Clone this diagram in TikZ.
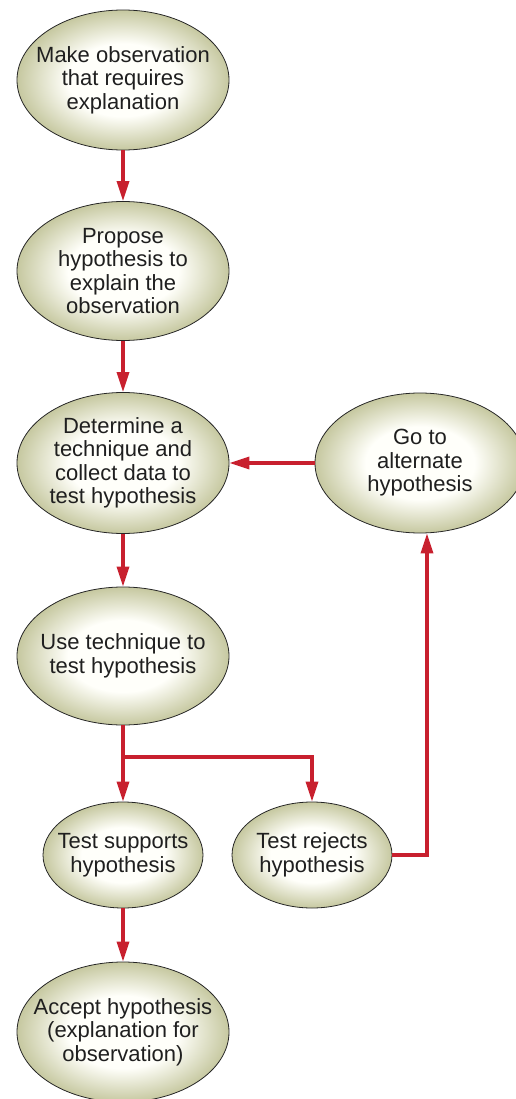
\documentclass[tikz,border=0pt]{standalone}
\usepackage{fontspec}
\setmainfont{Liberation Sans}
\usepackage{tikz}
\usetikzlibrary{shapes.geometric, arrows.meta, positioning}

\definecolor{flowred}{RGB}{200,32,46}
\definecolor{ellin}{RGB}{255,255,250}
\definecolor{ellout}{RGB}{198,200,160}
\pgfdeclareradialshading{blob}{\pgfpoint{0bp}{0bp}}{%
  color(0bp)=(ellin); color(13bp)=(ellin); color(25bp)=(ellout); color(50bp)=(ellout)}

\tikzset{
  step box/.style={ellipse, draw=black!85, line width=0.8pt, shading=blob,
    minimum width=212pt, minimum height=140pt, inner xsep=-20pt, inner ysep=-10pt,
    align=center, font=\fontsize{22}{23.5}\selectfont, text=black!88},
  small box/.style={step box, minimum width=160pt, minimum height=106pt},
  flow/.style={draw=flowred, line width=3.3pt, -{Triangle[width=12pt,length=20pt]}},
}

\begin{document}
\begin{tikzpicture}[x=1pt, y=-1pt]
    \useasboundingbox (0,0) rectangle (516,1099);
    % main column
    \node[step box] (observe) at (123,80) {Make observation\\that requires\\explanation};
    \node[step box, minimum height=139pt] (propose) at (123,271) {Propose\\hypothesis to\\explain the\\observation};
    \node[step box, minimum height=141pt] (collect) at (123,463) {Determine a\\technique and\\collect data to\\test hypothesis};
    \node[step box, minimum width=210pt, minimum height=140pt] (alternate) at (420,463) {Go to\\alternate\\hypothesis};
    \node[step box, minimum height=138pt] (usetech) at (123,656) {Use technique to\\test hypothesis};
    \node[small box] (supports) at (123,855) {Test supports\\hypothesis};
    \node[small box] (rejects) at (312,855) {Test rejects\\hypothesis};
    \node[step box] (accept) at (123,1032) {Accept hypothesis\\(explanation for\\observation)};
    \coordinate (split) at (123,757);

    \draw[flow] (observe) -- (propose);
    \draw[flow] (propose) -- (collect);
    \draw[flow] (collect) -- (usetech);
    \draw[flow] (usetech) -- (supports);
    \draw[flow] (split) -| (rejects);
    \draw[flow] (rejects.east) -| ([xshift=7pt]alternate.south);
    \draw[flow] (alternate) -- (collect);
    \draw[flow] (supports) -- (accept);
\end{tikzpicture}
\end{document}
